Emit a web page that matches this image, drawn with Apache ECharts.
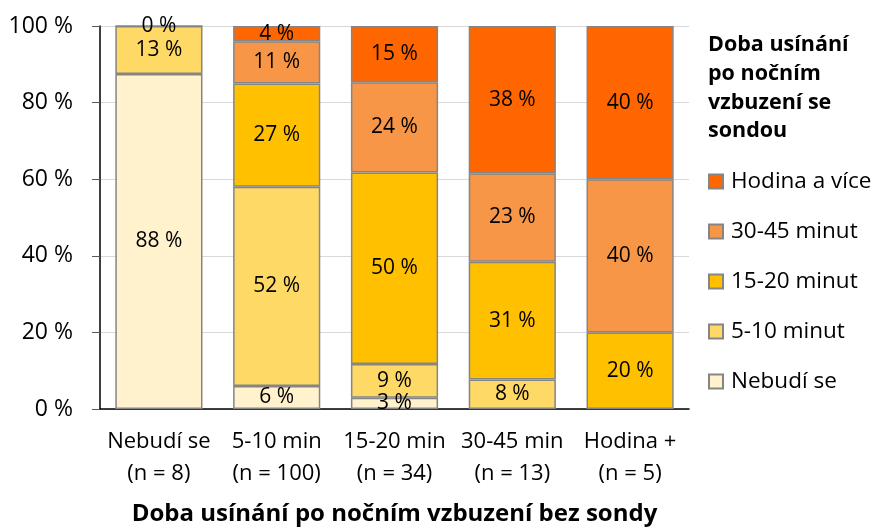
<!DOCTYPE html>
<html>
<head>
<meta charset="utf-8">
<style>
  html, body { margin: 0; padding: 0; background: #fff; }
  #chart { width: 876px; height: 527px; }
</style>
<script src="https://cdn.jsdelivr.net/npm/echarts@6/dist/echarts.min.js"></script>
</head>
<body>
<div id="chart"></div>
<script>
// Groups: time to fall asleep after waking at night without the probe
const categories = ['Nebudí se\n(n = 8)', '5-10 min\n(n = 100)', '15-20 min\n(n = 34)', '30-45 min\n(n = 13)', 'Hodina +\n(n = 5)'];

// Share (%) of each answer with the probe, per group
const nebudiSe   = [87.5, 6, 2.94, null, null];
const min5_10    = [12.5, 52, 8.82, 7.69, null];
const min15_20   = [null, 27, 50.0, 30.77, 20];
const min30_45   = [null, 11, 23.53, 23.08, 40];
const hodinaVice = [0, 4, 14.71, 38.46, 40];

const seriesNames = ['Nebudí se', '5-10 minut', '15-20 minut', '30-45 minut', 'Hodina a více'];
const seriesData = [nebudiSe, min5_10, min15_20, min30_45, hodinaVice];
const seriesColors = ['#FFF2CC', '#FFD966', '#FFC000', '#F79646', '#FF6600'];

const yTicks = [0, 20, 40, 60, 80, 100];

const FONT = 'Open Sans';

const chart = echarts.init(document.getElementById('chart'));

chart.setOption({
  backgroundColor: '#ffffff',
  animation: false,
  textStyle: { fontFamily: FONT, color: '#000' },
  title: {
    text: 'Doba usínání\npo nočním\nvzbuzení se\nsondou',
    left: 703,
    top: 26,
    textStyle: { fontFamily: FONT, fontSize: 21.5, fontWeight: 'bold', lineHeight: 28.6, color: '#000' }
  },
  legend: {
    orient: 'vertical',
    left: 703,
    top: 165,
    itemWidth: 14,
    itemHeight: 14,
    itemGap: 27,
    icon: 'rect',
    data: seriesNames.slice().reverse(),
    textStyle: { fontFamily: FONT, fontSize: 22.5, color: '#000', padding: [0, 0, 0, 3] }
  },
  grid: { left: 100, right: 187, top: 26, bottom: 118, containLabel: false, outerBoundsMode: 'none' },
  xAxis: {
    type: 'category',
    data: categories,
    name: 'Doba usínání po nočním vzbuzení bez sondy',
    nameLocation: 'middle',
    nameGap: 93,
    nameTextStyle: { fontFamily: FONT, fontSize: 24, fontWeight: 'bold', color: '#000' },
    axisLine: { lineStyle: { color: '#000', width: 1.5 } },
    axisTick: { show: false },
    axisLabel: { fontFamily: FONT, fontSize: 22, lineHeight: 32, color: '#000', margin: 17, interval: 0 }
  },
  yAxis: {
    type: 'value',
    min: yTicks[0],
    max: yTicks[yTicks.length - 1],
    interval: 20,
    axisLine: { show: true, lineStyle: { color: '#000', width: 1.5 } },
    axisTick: { show: true, length: 8, lineStyle: { color: '#595959', width: 1 } },
    axisLabel: { fontFamily: FONT, fontSize: 23, color: '#000', margin: 27, formatter: '{value} %' },
    splitLine: { lineStyle: { color: '#D9D9D9', width: 1 } }
  },
  series: seriesNames.map((name, i) => ({
    name: name,
    type: 'bar',
    stack: 'total',
    barWidth: '74%',
    data: seriesData[i],
    itemStyle: { color: seriesColors[i], borderColor: '#858585', borderWidth: 1.5 },
    label: {
      show: true,
      position: 'inside',
      fontFamily: FONT,
      fontSize: 21,
      color: '#000',
      formatter: p => (p.value === null || p.value === undefined) ? '' : Math.round(p.value) + ' %'
    }
  }))
});
</script>
</body>
</html>
